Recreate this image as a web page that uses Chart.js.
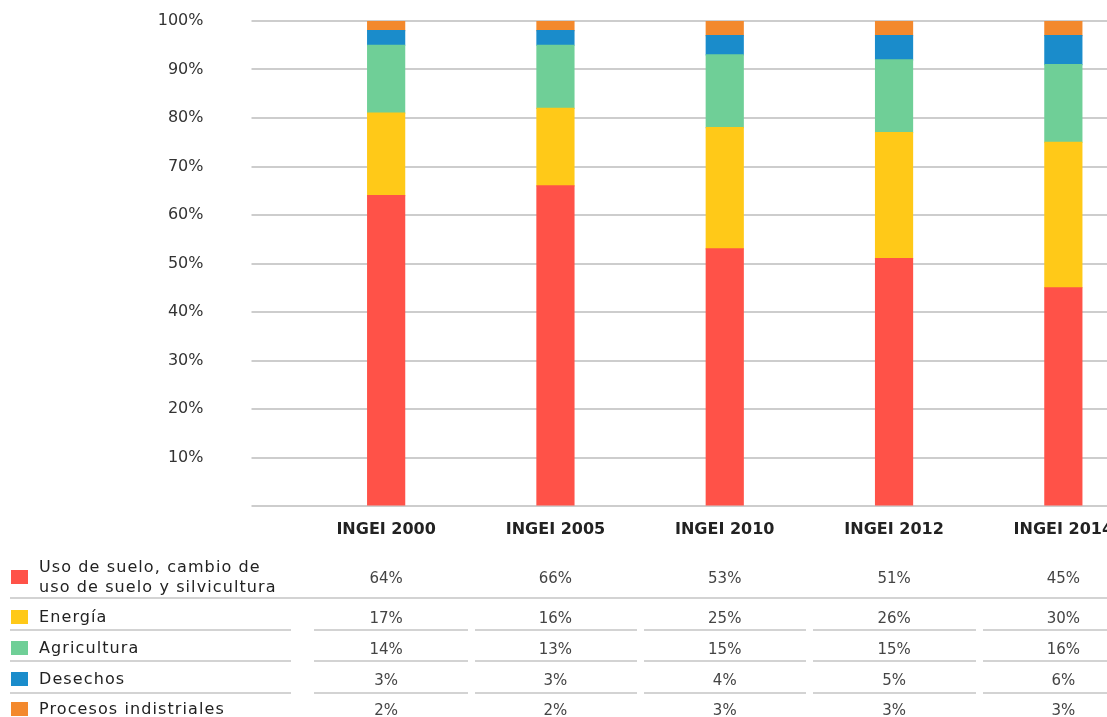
<!DOCTYPE html>
<html>
<head>
<meta charset="utf-8">
<script src="https://cdn.jsdelivr.net/npm/chart.js@4/dist/chart.umd.min.js"></script>
<style>
  html, body { margin: 0; padding: 0; overflow: hidden; background: #fff; width: 1107px; height: 717px; }
  #wrap { position: absolute; left: 0; top: 0; width: 1148px; height: 540px; }
  #tbl { position: absolute; left: 0; top: 0; width: 1107px; height: 717px; font-family: "DejaVu Sans", sans-serif; }
  .sq { position: absolute; width: 17px; height: 14px; }
  .lab { position: absolute; left: 39px; font-size: 16px; letter-spacing: 1.1px; line-height: 20px; color: #222; transform: translateY(-50%); white-space: nowrap; }
  .val { position: absolute; font-size: 15px; color: #444; transform: translate(-50%, -50%); white-space: nowrap; }
  .ln { position: absolute; height: 2px; background: #d3d3d3; }
</style>
</head>
<body>
<div id="wrap"><canvas id="c"></canvas></div>
<div id="tbl"></div>
<script>
// ---- data ----
const categories = ['INGEI 2000', 'INGEI 2005', 'INGEI 2010', 'INGEI 2012', 'INGEI 2014'];
const usoSuelo    = [64, 66, 53, 51, 45];
const energia     = [17, 16, 25, 26, 30];
const agricultura = [14, 13, 15, 15, 16];
const desechos    = [3, 3, 4, 5, 6];
const procesos    = [2, 2, 3, 3, 3];
const seriesLabels = [
  ['Uso de suelo, cambio de', 'uso de suelo y silvicultura'],
  ['Energía'],
  ['Agricultura'],
  ['Desechos'],
  ['Procesos indistriales']
];
const yTicks = [10, 20, 30, 40, 50, 60, 70, 80, 90, 100];

// ---- styles ----
const colors = ['#FF5248', '#FFC918', '#6FCF97', '#1A8CCB', '#F3892D'];
const seriesValues = [usoSuelo, energia, agricultura, desechos, procesos];

const datasets = seriesValues.map((vals, i) => ({
  label: seriesLabels[i].join(' '),
  data: vals,
  backgroundColor: colors[i],
  borderWidth: 0,
  inflateAmount: 0.6,
  barThickness: 37
}));

const chart = new Chart(document.getElementById('c'), {
  type: 'bar',
  data: { labels: categories, datasets },
  options: {
    responsive: true,
    maintainAspectRatio: false,
    animation: false,
    layout: { padding: { top: 21, left: 0, right: 0, bottom: 0 } },
    plugins: { legend: { display: false }, tooltip: { enabled: false } },
    scales: {
      x: {
        stacked: true,
        grid: { display: false, drawTicks: false },
        border: { display: false },
        ticks: {
          padding: 14,
          color: '#222',
          font: { family: 'DejaVu Sans', size: 16, weight: 'bold' }
        },
        afterFit: (s) => { s.height = 34; }
      },
      y: {
        stacked: true,
        min: 0,
        max: 100,
        afterBuildTicks: (s) => { s.ticks = [0].concat(yTicks).map(v => ({ value: v })); },
        grid: { color: '#cdcdcd', lineWidth: 2, drawTicks: true, tickLength: 50 },
        border: { display: false },
        ticks: {
          padding: 48,
          color: '#333',
          font: { family: 'DejaVu Sans', size: 16 },
          callback: (v) => v === 0 ? '' : v + '%'
        },
        afterFit: (s) => { s.width = 301.5; s.paddingTop = 0; s.paddingBottom = 0; }
      }
    }
  }
});

// ---- data table below the chart, columns tied to the x scale ----
const tbl = document.getElementById('tbl');
const xs = chart.scales.x;
const centers = categories.map((_, i) => xs.getPixelForValue(i));
const colW = centers.length > 1 ? centers[1] - centers[0] : 169;
const rowY = [577, 617, 648, 679, 709];
const lineY = [597, 629, 660, 692];

function add(cls, css, text) {
  const d = document.createElement('div');
  d.className = cls;
  Object.assign(d.style, css);
  if (text !== undefined) d.innerHTML = text;
  tbl.appendChild(d);
  return d;
}

seriesValues.forEach((vals, r) => {
  add('sq', { left: '11px', top: (rowY[r] - 7) + 'px', background: colors[r] });
  add('lab', { top: rowY[r] + 'px' }, seriesLabels[r].join('<br>'));
  vals.forEach((v, c) => {
    add('val', { left: centers[c] + 'px', top: (rowY[r] + 1) + 'px' }, v + '%');
  });
});

// separator lines
add('ln', { left: '10px', width: '1097px', top: lineY[0] + 'px' });
for (let k = 1; k < lineY.length; k++) {
  add('ln', { left: '10px', width: '281px', top: lineY[k] + 'px' });
  centers.forEach((cx, c) => {
    const l = cx - colW / 2 + (c === 0 ? 12 : 4);
    const rr = cx + colW / 2 - 3;
    add('ln', { left: l + 'px', width: (rr - l) + 'px', top: lineY[k] + 'px' });
  });
}
</script>
</body>
</html>
